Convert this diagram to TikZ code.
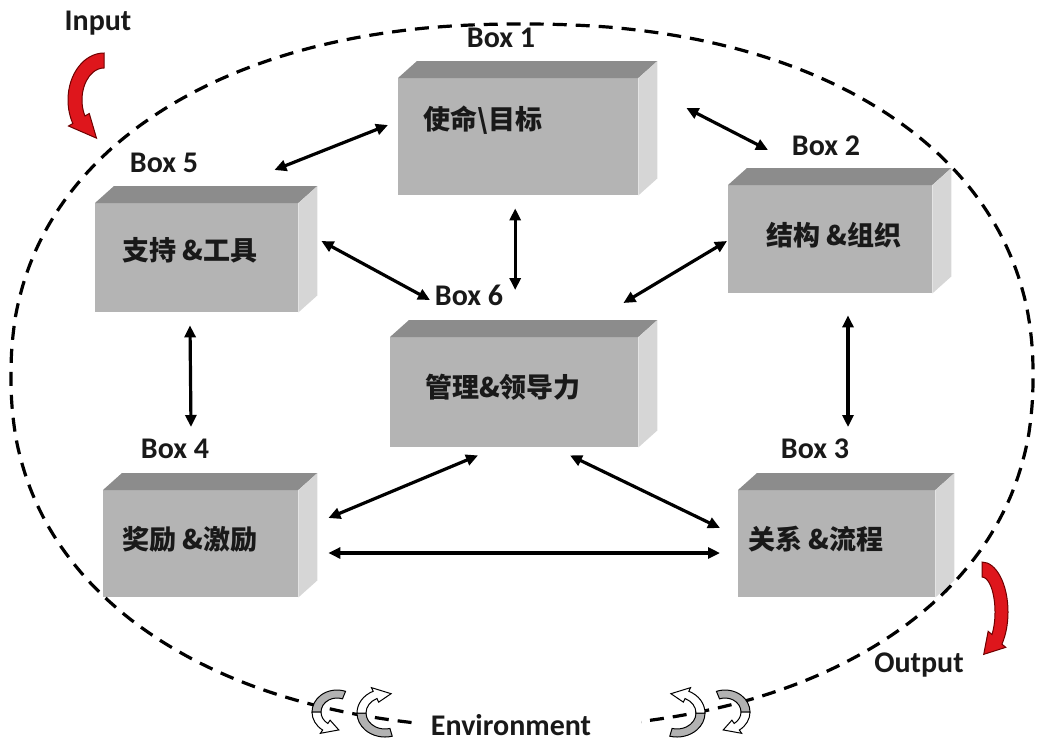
\documentclass[tikz,border=0pt]{standalone}
\usepackage{fontspec}
\newfontfamily\cjk{Noto Sans CJK SC}
\newfontfamily\lab{Carlito}
\usetikzlibrary{arrows.meta,calc}
\definecolor{frontc}{RGB}{180,180,180}
\definecolor{topc}{RGB}{140,140,140}
\definecolor{sidec}{RGB}{214,214,214}
\definecolor{redA}{RGB}{222,22,28}
\definecolor{redB}{RGB}{110,0,0}
\definecolor{envgrey}{RGB}{178,178,178}
\definecolor{ink}{RGB}{25,25,25}

\tikzset{
 boxfront/.style={fill=frontc, draw=none, inner sep=0pt, anchor=north west},
 boxtop/.style={fill=topc},
 boxside/.style={fill=sidec},
 cjktext/.style={font=\cjk\bfseries\fontsize{27}{32}\selectfont, inner sep=0pt, text=ink},
 boxlabel/.style={font=\lab\bfseries\fontsize{30}{36}\selectfont, inner sep=0pt, anchor=base, text=ink},
 link/.style={{Triangle[length=12pt,width=11pt]}-{Triangle[length=12pt,width=11pt]}, line width=3.2pt, draw=black},
 boundary/.style={draw=black, line width=3.2pt, dash pattern=on 14pt off 9pt},
 redarrow/.style={fill=redA, draw=redB, line width=1pt},
 greyband/.style={fill=envgrey, draw=black, line width=1pt},
 whitearrow/.style={fill=white, draw=black, line width=1pt},
}

\newcommand\cuboid[5]{%
 \node[boxfront, minimum width=#4pt, minimum height=#5pt] (#1) at (#2,#3) {};
 \fill[boxtop] (#1.north west) -- ++(19,-17) -- ($(#1.north east)+(19,-17)$) -- (#1.north east) -- cycle;
 \fill[boxside] (#1.north east) -- ++(19,-17) -- ($(#1.south east)+(19,-17)$) -- (#1.south east) -- cycle;
}

\newcommand\carrow[3]{%
 \foreach \rxo/\ryo/\rxi/\ryi/\angA/\angB/\dA/\ww in {#3}{%
  \pgfmathsetmacro\rxm{(\rxo+\rxi)/2}%
  \pgfmathsetmacro\rym{(\ryo+\ryi)/2}%
  \pgfmathsetmacro\angT{\angB+\dA}%
  \pgfmathsetmacro\rxa{\rxo+\ww}%
  \pgfmathsetmacro\rya{\ryo+\ww}%
  \pgfmathsetmacro\rxb{\rxi-\ww}%
  \pgfmathsetmacro\ryb{\ryi-\ww}%
  \filldraw[#1] ($(#2)+(\angA:{\rxo} and {\ryo})$) arc[start angle=\angA, end angle=\angB, x radius=\rxo, y radius=\ryo]
   -- ($(#2)+(\angB:{\rxa} and {\rya})$) -- ($(#2)+(\angT:{\rxm} and {\rym})$) -- ($(#2)+(\angB:{\rxb} and {\ryb})$)
   -- ($(#2)+(\angB:{\rxi} and {\ryi})$) arc[start angle=\angB, end angle=\angA, x radius=\rxi, y radius=\ryi] -- cycle;
 }}

\newcommand\cband[3]{%
 \foreach \rxo/\ryo/\rxi/\ryi/\angA/\angB in {#3}{%
  \filldraw[#1] ($(#2)+(\angA:{\rxo} and {\ryo})$) arc[start angle=\angA, end angle=\angB, x radius=\rxo, y radius=\ryo]
   -- ($(#2)+(\angB:{\rxi} and {\ryi})$) arc[start angle=\angB, end angle=\angA, x radius=\rxi, y radius=\ryi] -- cycle;
 }}

\newcommand\envpair{%
 \cband{greyband}{337,712}{25/22/16/14/290/180}
 \carrow{whitearrow}{337,712}{25/22/16/14/180/125/-40/4}
 \cband{greyband}{385,713}{28/24/19/16/75/180}
 \carrow{whitearrow}{385,713}{28/24/19/16/180/245/40/4}
}

\begin{document}
\begin{tikzpicture}[x=1pt,y=-1pt]
\useasboundingbox (0,0) rectangle (1040,745);

% boxes
\cuboid{b1}{398}{78}{240}{117}
\cuboid{b5}{95}{203}{203}{109}
\cuboid{b6}{390}{337}{248}{110}
\cuboid{b2}{728}{185}{204}{108}
\cuboid{b3}{738}{490}{197}{107}
\cuboid{b4}{103}{490}{195}{107}

% boundary
\draw[boundary] plot[smooth cycle, domain=0.5:358, samples=144]
 ({522+511*sign(cos(\x))*abs(cos(\x))^0.909}, {376+352*sign(sin(\x))*abs(sin(\x))^0.909});
\fill[white] (418,702) rectangle (641,745);

% box texts
\node[cjktext] (t1) at (483,120) {使命\textbackslash 目标};
\node[cjktext] (t5) at (190,250) {支持 \&工具};
\node[cjktext] (t6) at (503,387) {管理\&领导力};
\node[cjktext] (t2) at (834,235) {结构 \&组织};
\node[cjktext] (t3) at (816,539) {关系 \&流程};
\node[cjktext] (t4) at (190,539) {奖励 \&激励};

% box labels
\node[boxlabel] (l1) at (501,47) {Box 1};
\node[boxlabel] (l2) at (826,155) {Box 2};
\node[boxlabel] (l3) at (815,458) {Box 3};
\node[boxlabel] (l4) at (175,458) {Box 4};
\node[boxlabel] (l5) at (164,172) {Box 5};
\node[boxlabel] (l6) at (469,305) {Box 6};
\node[boxlabel] (lin) at (98,30) {Input};
\node[boxlabel] (lout) at (919,672) {Output};
\node[boxlabel] (lenv) at (511,735) {Environment};

% connectors
\draw[link] ($(b1.north west)+(-10,47)$) -- ($(b5.north east)+(-24,-33)$);
\draw[link] ($(b1.north east)+(48,30)$) -- ($(b2.north west)+(40,-35)$);
\draw[link] ($(b1.south)+(-3,13)$) -- ($(b6.north)+(1,-47)$);
\draw[link] ($(b5.north east)+(23,38)$) -- ($(b6.north west)+(40,-37)$);
\draw[link] ($(b2.north west)+(-1,56)$) -- ($(b6.north east)+(-15,-34)$);
\draw[link] ($(b5.south west)+(95,13)$) -- ($(b4.north west)+(88,-63)$);
\draw[link] ($(b2.south west)+(120,22)$) -- ($(b3.north west)+(110,-63)$);
\draw[link] ($(b6.south west)+(88,8)$) -- ($(b4.north east)+(30,28)$);
\draw[link] ($(b6.south west)+(180,8)$) -- ($(b3.north west)+(-18,38)$);
\draw[link] ($(b4.north east)+(30,63)$) -- ($(b3.north west)+(-18,63)$);

% input / output arrows
\carrow{redarrow}{104,100}{36/47/22/32/270/150/-45/5}
\carrow{redarrow}{982,612}{26/50/13/35/270/400/45/5}

% environment arrows
\envpair
\begin{scope}[xshift=1062pt, xscale=-1]
\envpair
\end{scope}
\end{tikzpicture}
\end{document}
